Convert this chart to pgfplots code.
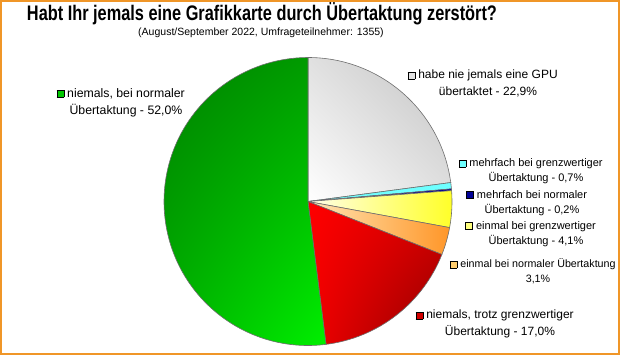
\documentclass[border=0pt]{standalone}
\usepackage{pgfplots}
\pgfplotsset{compat=1.18}
\usepackage{pgfplotstable}
\usetikzlibrary{shadings}
\usepackage{fontspec}
\setmainfont{Liberation Sans}

\pgfplotstableread{
pct
22.9
0.7
0.2
4.1
3.1
17.0
52.0
}\piedata

\definecolor{pgray}{RGB}{225,225,225}
\definecolor{pcyan}{RGB}{110,255,255}
\definecolor{pblue}{RGB}{0,0,150}
\definecolor{pyellow}{RGB}{255,255,40}
\definecolor{porange}{RGB}{255,150,40}
\definecolor{plorange}{RGB}{255,205,110}
\definecolor{pred}{RGB}{210,0,0}
\definecolor{pgreen}{RGB}{0,200,0}
\definecolor{frame}{RGB}{240,150,40}
\definecolor{edge}{RGB}{110,110,110}

\newcommand\sector[2]{%
  \path[draw=edge, line width=0.6pt, #2] (axis cs:308,153.5) -- ++(\csname s#1\endcsname:144pt)
    arc[start angle=\csname s#1\endcsname, end angle=\csname e#1\endcsname, radius=144pt] -- cycle;}
\newcommand\sq[1]{{\fboxsep0pt\fboxrule0.6pt\fbox{\textcolor{#1}{\rule{6.4pt}{6.4pt}}}}}

\begin{document}
\begin{tikzpicture}
\pgfplotstablegetrowsof{\piedata}
\pgfmathtruncatemacro\nrows{\pgfplotsretval-1}
\gdef\cum{90}
\foreach \i in {0,...,\nrows}{%
  \pgfplotstablegetelem{\i}{pct}\of\piedata
  \pgfmathsetmacro\endang{\cum-3.6*\pgfplotsretval}%
  \expandafter\xdef\csname s\i\endcsname{\cum}%
  \expandafter\xdef\csname e\i\endcsname{\endang}%
  \xdef\cum{\endang}%
}
\begin{axis}[scale only axis, width=620pt, height=355pt,
  xmin=0, xmax=620, ymin=0, ymax=355, hide axis, clip=false]
\sector{0}{upper left=black!12, upper right=black!24, lower left=white, lower right=black!12}
\sector{1}{fill=pcyan}
\sector{2}{fill=pblue}
\sector{3}{left color=yellow!8, right color=pyellow}
\sector{4}{left color=plorange!50, right color=porange}
\sector{5}{upper left=red, upper right=red!85!black, lower left=red!95!black, lower right=red!55!black}
\sector{6}{upper left=green!50!black, upper right=green!62!black, lower left=green!70!black, lower right=green!95!black}

\draw[frame, line width=2pt] (axis cs:1,1) rectangle (axis cs:619,354);

\node[font=\bfseries\fontsize{20}{22}\selectfont, inner sep=0pt, anchor=base] at (axis cs:262,334) {\resizebox{470pt}{18pt}{Habt Ihr jemals eine Grafikkarte durch Übertaktung zerstört?}};
\node[font=\fontsize{10.5}{12}\selectfont] at (axis cs:261,322) {(August/September 2022, Umfrageteilnehmer: 1355)};

\node[align=center, font=\fontsize{12}{17}\selectfont] at (axis cs:488,271.5) {\llap{\sq{pgray}\hspace{3pt}}habe nie jemals eine GPU\\übertaktet - 22,9\%};
\node[align=center, font=\fontsize{11}{14.5}\selectfont] at (axis cs:536,184) {\llap{\sq{pcyan}\hspace{3pt}}mehrfach bei grenzwertiger\\Übertaktung - 0,7\%};
\node[align=center, font=\fontsize{11}{15.5}\selectfont] at (axis cs:532,152) {\llap{\sq{pblue}\hspace{3pt}}mehrfach bei normaler\\Übertaktung - 0,2\%};
\node[align=center, font=\fontsize{11}{15.5}\selectfont] at (axis cs:536,121) {\llap{\sq{pyellow!60}\hspace{3pt}}einmal bei grenzwertiger\\Übertaktung - 4,1\%};
\node[align=center, font=\fontsize{10.7}{15}\selectfont] at (axis cs:538,83.5) {\llap{\sq{plorange}\hspace{3pt}}einmal bei normaler Übertaktung\\3,1\%};
\node[align=center, font=\fontsize{12}{16.5}\selectfont] at (axis cs:500,31) {\llap{\sq{pred}\hspace{3pt}}niemals, trotz grenzwertiger\\Übertaktung - 17,0\%};
\node[align=center, font=\fontsize{12.3}{17}\selectfont] at (axis cs:126,252.5) {\llap{\sq{pgreen}\hspace{3pt}}niemals, bei normaler\\Übertaktung - 52,0\%};
\end{axis}
\end{tikzpicture}
\end{document}
